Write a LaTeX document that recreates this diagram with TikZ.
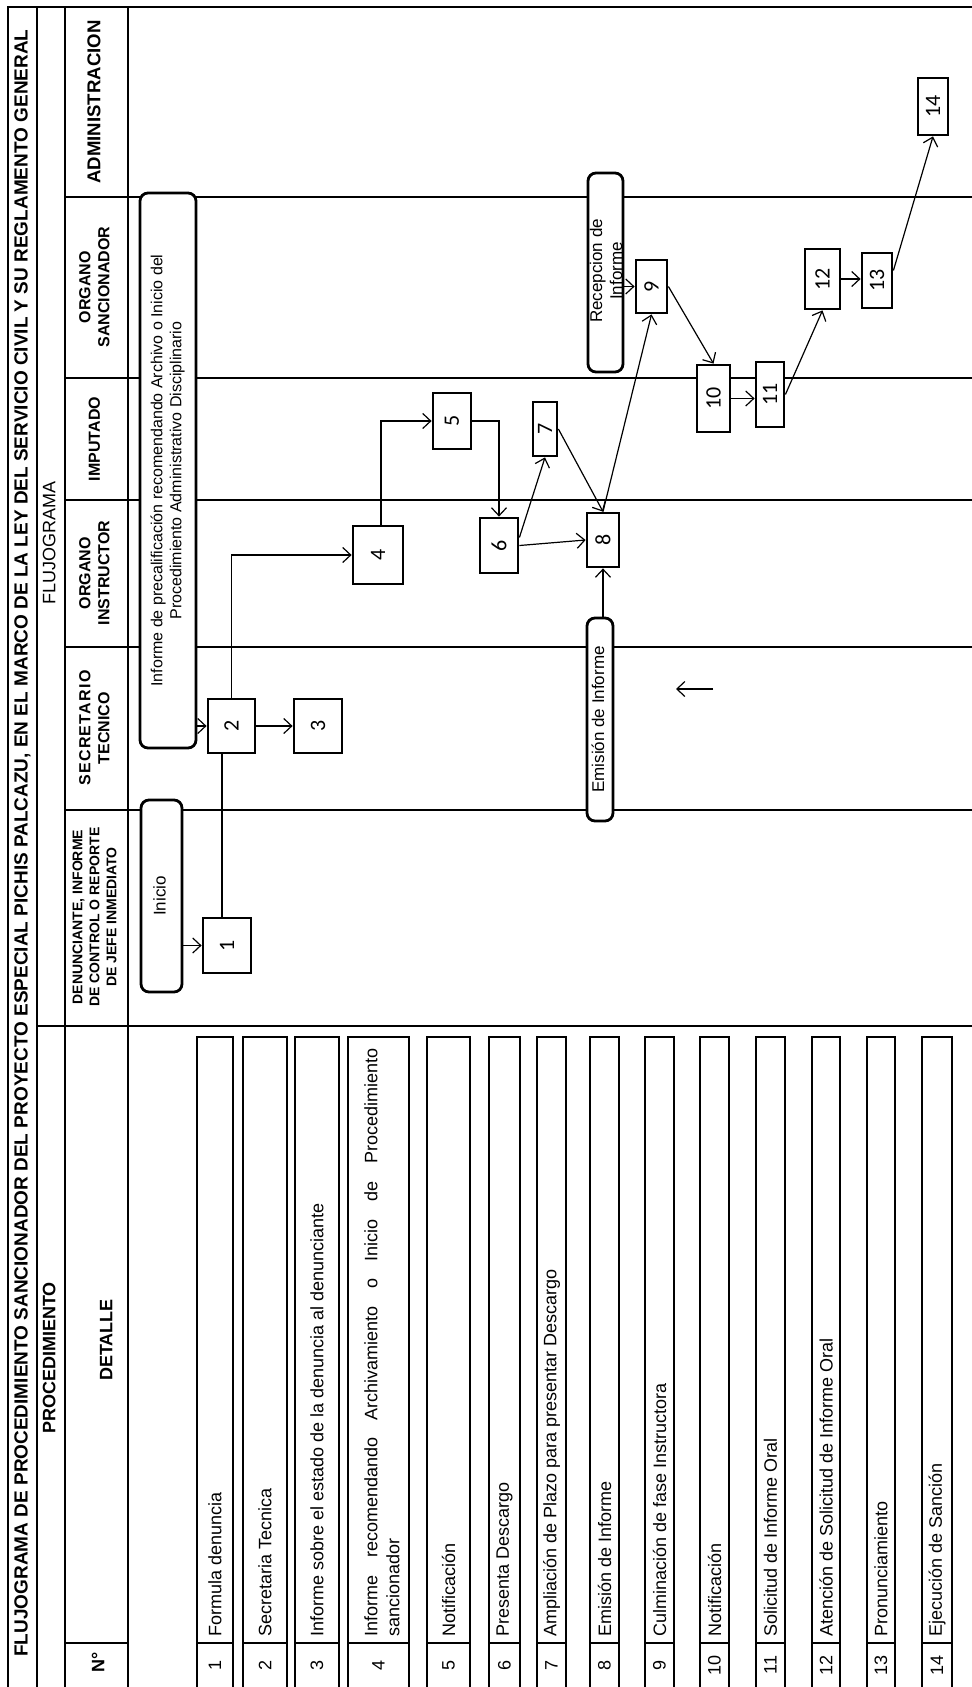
\documentclass[tikz,border=0pt]{standalone}
\usepackage{fontspec}
\setmainfont{Liberation Sans}
\newfontfamily\numfont{Carlito}
\usetikzlibrary{arrows.meta}
\newcommand{\rt}[1]{\rotatebox{90}{\begin{tabular}{@{}c@{}}#1\end{tabular}}}
\begin{document}
\begin{tikzpicture}[x=0.5pt,y=-0.5pt,
  tbl/.style={line width=0.9pt},
  numbox/.style={draw, fill=white, line width=1.4pt, inner sep=0pt, font=\numfont\fontsize{11}{13}\selectfont},
  rbox/.style={draw, fill=white, rounded corners=4pt, line width=1.4pt, inner sep=0pt, font=\fontsize{8.5}{10}\selectfont},
  arr/.style={line width=0.6pt, -{Straight Barb[length=4pt,width=7.5pt]}},
  plain/.style={line width=0.6pt},
  lanehd/.style={inner sep=0pt, font=\bfseries\fontsize{8}{9.5}\selectfont},
  rowtxt/.style={inner sep=0pt, rotate=90, anchor=west, font=\fontsize{9}{11}\selectfont},
  rownum/.style={inner sep=0pt, font=\fontsize{9}{11}\selectfont}]
\useasboundingbox (0,0) rectangle (972,1687);
\fill[white] (0,0) rectangle (972,1687);

% ---------- table frame ----------
\draw[tbl] (8,1687) -- (8,7) -- (972,7);
\draw[tbl] (37,7) -- (37,1687);
\draw[tbl] (65,7) -- (65,1687);
\draw[tbl] (128,7) -- (128,1687);
\draw[tbl] (37,1026) -- (972,1026);
\foreach \yy in {197,378,500,647,810} \draw[tbl] (65,\yy) -- (972,\yy);
\draw[tbl] (65,1643) -- (128,1643);

% ---------- title and headers ----------
\node[rotate=90, anchor=west, inner sep=0pt, font=\bfseries\fontsize{9.5}{11}\selectfont] (title) at (22.5,1657)
  {FLUJOGRAMA DE PROCEDIMIENTO SANCIONADOR DEL PROYECTO ESPECIAL PICHIS PALCAZU, EN EL MARCO DE LA LEY DEL SERVICIO CIVIL Y SU REGLAMENTO GENERAL};
\node[lanehd, font=\bfseries\fontsize{9}{11}\selectfont] (hproc) at (51,1358) {\rt{PROCEDIMIENTO}};
\node[lanehd, font=\fontsize{9}{11}\selectfont] (hflu) at (51,543) {\rt{FLUJOGRAMA}};
\node[lanehd, font=\bfseries\fontsize{9.3}{11}\selectfont] (hadm) at (96,102) {\rt{ADMINISTRACION}};
\node[lanehd] (hsan) at (96,287) {\rt{ORGANO\\SANCIONADOR}};
\node[lanehd] (himp) at (96,439) {\rt{IMPUTADO}};
\node[lanehd] (hins) at (96,573) {\rt{ORGANO\\INSTRUCTOR}};
\node[lanehd] (hsec) at (96,728) {\rt{\addfontfeature{LetterSpace=8}SECRETARIO\\TECNICO}};
\node[lanehd, font=\bfseries\fontsize{7}{8.5}\selectfont] (hden) at (96,917) {\rt{DENUNCIANTE, INFORME\\DE CONTROL O REPORTE\\DE JEFE INMEDIATO}};
\node[lanehd, font=\bfseries\fontsize{9}{11}\selectfont] (hdet) at (108,1340) {\rt{DETALLE}};
\node[lanehd, font=\bfseries\fontsize{9}{11}\selectfont] (hno) at (100,1662) {\rt{N°}};

% ---------- detail rows ----------
\foreach \a/\b/\n in {197/233/1,243/287/2,295/339/3,348/409/4,427/470/5,489/520/6,537/566/7,590/619/8,645/674/9,700/729/10,756/785/11,812/840/12,867/895/13,922/952/14}{
  \draw[tbl] (\a,1687) -- (\a,1037) -- (\b,1037) -- (\b,1687);
  \draw[tbl] (\a,1643) -- (\b,1643);
  \node[rownum] (rn\n) at ({(\a+\b)/2},1665) {\rotatebox{90}{\n}};
}
\node[rowtxt] (r1) at (215,1637) {Formula denuncia};
\node[rowtxt] (r2) at (265,1637) {Secretaria Tecnica};
\node[rowtxt] (r3) at (317,1637) {Informe sobre el estado de la denuncia al denunciante};
\node[rowtxt] (r4) at (382,1637) {\parbox{294pt}{Informe recomendando Archivamiento o Inicio de Procedimiento\linebreak sancionador}};
\node[rowtxt] (r5) at (448.5,1637) {Notificación};
\node[rowtxt] (r6) at (504.5,1637) {Presenta Descargo};
\node[rowtxt] (r7) at (551.5,1637) {Ampliación de Plazo para presentar Descargo};
\node[rowtxt] (r8) at (604.5,1637) {Emisión de Informe};
\node[rowtxt] (r9) at (659.5,1637) {Culminación de fase Instructora};
\node[rowtxt] (r10) at (714.5,1637) {Notificación};
\node[rowtxt] (r11) at (770.5,1637) {Solicitud de Informe Oral};
\node[rowtxt] (r12) at (826,1637) {Atención de Solicitud de Informe Oral};
\node[rowtxt] (r13) at (881,1637) {Pronunciamiento};
\node[rowtxt] (r14) at (937,1637) {Ejecución de Sanción};

% ---------- flow boxes ----------
\node[rbox, minimum width=20.5pt, minimum height=96pt] (inicio) at (161.5,896) {\rt{Inicio}};
\node[rbox, minimum width=28pt, minimum height=277.5pt, font=\fontsize{8}{9.5}\selectfont] (prec) at (168,470.5)
  {\rt{Informe de precalificación recomendando Archivo o Inicio del\\Procedimiento Administrativo Disciplinario}};
\node[rbox, minimum width=17.5pt, minimum height=99.5pt] (recep) at (605.5,272.5) {};
\node[inner sep=0pt, font=\fontsize{8.5}{10}\selectfont] (receptxt) at (608,271) {\rt{Recepcion de\\Informe}};
\node[rbox, minimum width=13pt, minimum height=101.5pt] (emis) at (600,719.5) {\rt{Emisión de Informe}};

\node[numbox, minimum width=24pt, minimum height=27.5pt] (n1) at (227,945.5) {\rotatebox{90}{1}};
\node[numbox, minimum width=23.5pt, minimum height=27pt] (n2) at (231.5,726) {\rotatebox{90}{2}};
\node[numbox, minimum width=24pt, minimum height=27pt] (n3) at (318,726) {\rotatebox{90}{3}};
\node[numbox, minimum width=25pt, minimum height=29pt] (n4) at (378,555) {\rotatebox{90}{4}};
\node[numbox, minimum width=19pt, minimum height=28pt] (n5) at (452,421) {\rotatebox{90}{5}};
\node[numbox, minimum width=19pt, minimum height=27.5pt] (n6) at (499,545.5) {\rotatebox{90}{6}};
\node[numbox, minimum width=12pt, minimum height=27pt] (n7) at (545,429) {\rotatebox{90}{7}};
\node[numbox, minimum width=16pt, minimum height=27pt] (n8) at (603,540) {\rotatebox{90}{8}};
\node[numbox, minimum width=15.5pt, minimum height=26.5pt] (n9) at (651.5,286.5) {\rotatebox{90}{9}};
\node[numbox, minimum width=16.5pt, minimum height=33.5pt] (n10) at (713.5,398.5) {\rotatebox{90}{10}};
\node[numbox, minimum width=14pt, minimum height=32.5pt] (n11) at (770,394.5) {\rotatebox{90}{11}};
\node[numbox, minimum width=17.5pt, minimum height=30pt] (n12) at (822.5,279) {\rotatebox{90}{12}};
\node[numbox, minimum width=15pt, minimum height=27.5pt] (n13) at (877,280.5) {\rotatebox{90}{13}};
\node[numbox, minimum width=15pt, minimum height=28.5pt] (n14) at (933,106.5) {\rotatebox{90}{14}};

% ---------- connectors ----------
\draw[arr] (inicio.east |- n1.west) -- (n1.west);
\draw[plain] ([xshift=-2.5pt]n1.north) -- ([xshift=-2.5pt]n1.north |- n2.south);
\draw[arr] (prec.east |- n2.west) -- (n2.west);
\draw[arr] (n2.east) -- (n2.east -| n3.west);
\draw[arr] (n2.north) |- (n4.west);
\draw[arr] ([xshift=1.5pt]n4.north) |- (n5.west);
\draw[arr] (n5.east) -| (n6.north);
\draw[arr] ([yshift=4pt]n6.east) -- (n7.south);
\draw[arr] (n6.east) -- (n8.west);
\draw[arr] (n7.east) -- (n8.north);
\draw[arr] (n8.north) -- (n9.south);
\draw[arr] (n8.south |- emis.north) -- (n8.south);
\draw[arr] (recep.east |- n9.west) -- (n9.west);
\draw[arr] (n9.east) -- (n10.north);
\draw[arr] (n10.east) -- (n10.east -| n11.west);
\draw[arr] (n11.east) -- (n12.south);
\draw[arr] (n12.east) -- (n12.east -| n13.west);
\draw[arr] ([yshift=5pt]n13.east) -- (n14.south);
\coordinate (la1) at (713,689);
\coordinate (la2) at (676,689);
\draw[arr] (la1) -- (la2);
\end{tikzpicture}
\end{document}
